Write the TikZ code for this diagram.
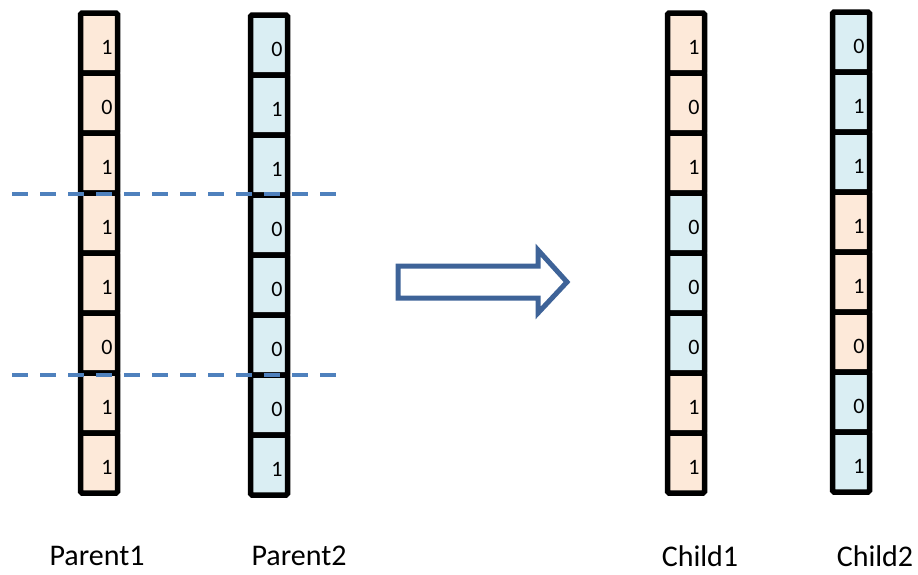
\documentclass[tikz,border=0pt]{standalone}
\usepackage{fontspec}
\setmainfont{Carlito}
\usetikzlibrary{positioning}

\definecolor{geneorange}{HTML}{FDE9D9}
\definecolor{geneblue}{HTML}{DAEEF3}
\definecolor{cutblue}{HTML}{4F81BD}
\definecolor{arrowblue}{HTML}{3E6398}

\tikzset{
  gene/.style={draw=black, line width=5.5pt, rounded corners=1.5pt,
               minimum width=37pt, minimum height=60pt, inner sep=0pt},
  cello/.style={fill=geneorange},
  cellb/.style={fill=geneblue},
  bit/.style={font=\fontsize{22}{22}\selectfont, xshift=8pt, yshift=-4pt},
  chromname/.style={font=\fontsize{30}{30}\selectfont},
  cut/.style={cutblue, line width=4pt, dash pattern=on 16pt off 12pt},
}

\begin{document}
\begin{tikzpicture}[x=1pt, y=-1pt]
  \useasboundingbox (0,0) rectangle (918,574);

  % the four chromosomes, one cell per gene (bit/colour)
  \foreach \col/\x/\y/\cells in {
      p1/99/43/{1/o,0/o,1/o,1/o,1/o,0/o,1/o,1/o},
      p2/269/45/{0/b,1/b,1/b,0/b,0/b,0/b,0/b,1/b},
      c1/686/43/{1/o,0/o,1/o,0/b,0/b,0/b,1/o,1/o},
      c2/851/42/{0/b,1/b,1/b,1/o,1/o,0/o,0/b,1/b}}
  {
    \foreach \b/\c [count=\i] in \cells
      \node[gene, cell\c, label={[bit]center:\b}] (\col-\i)
        at (\x, \y+60*\i-60) {};
  }

  % names under the columns
  \node[chromname] (p1name) at (97,556)  {Parent1};
  \node[chromname] (p2name) at (299,556) {Parent2};
  \node[chromname] (c1name) at (700,556) {Child1};
  \node[chromname] (c2name) at (875,556) {Child2};

  % crossover points
  \coordinate (cutA-l) at (12,194);
  \coordinate (cutA-r) at (340,194);
  \coordinate (cutB-l) at (12,375);
  \coordinate (cutB-r) at (340,375);
  \draw[cut] (cutA-l) -- (cutA-r);
  \draw[cut] (cutB-l) -- (cutB-r);

  % block arrow
  \draw[arrowblue, line width=5pt, miter limit=4]
    (398,266) -- (538,266) -- (538,250) -- (567,282)
    -- (538,313) -- (538,298) -- (398,298) -- cycle;
\end{tikzpicture}
\end{document}
